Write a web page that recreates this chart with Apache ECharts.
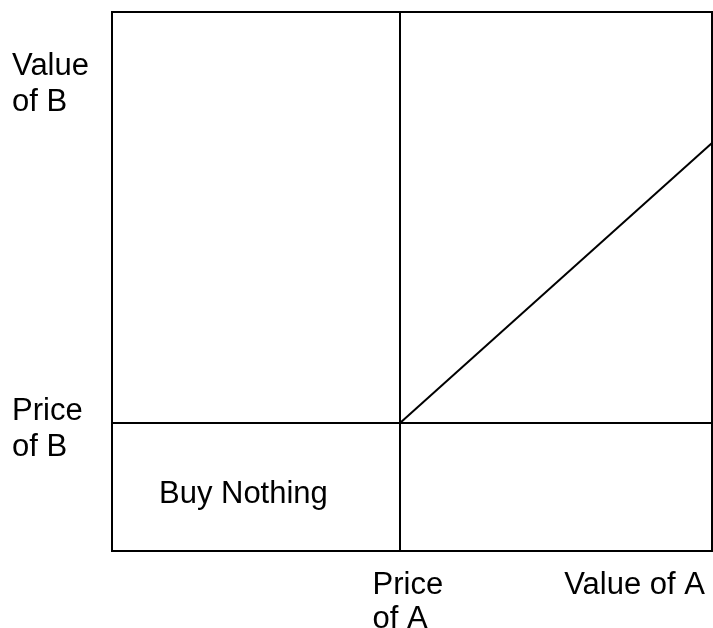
<!DOCTYPE html>
<html>
<head>
<meta charset="utf-8">
<script src="https://cdn.jsdelivr.net/npm/echarts@6/dist/echarts.min.js"></script>
<style>
  html, body { margin: 0; padding: 0; background: #fff; }
  #main { width: 713px; height: 628px; }
</style>
</head>
<body>
<div id="main"></div>
<script>
// axis positions (chart runs 0..10 on both axes)
var priceA = 4.8;
var valueA = 8.71;
var priceB = 2.375;
var valueB = 8.655;
var priceBLabel = 2.26;
var diagEndY = 7.57;

var xTickValues = [priceA, valueA];
var xTickLabels = ['{a|Price}\n{a|of A}', 'Value of A'];
var yTickValues = [priceBLabel, valueB];
var yTickLabels = ['Price\nof B', 'Value\nof B'];

var hLine = [[0, priceB], [10, priceB]];
var vLine = [[priceA, 0], [priceA, 10]];
var diagLine = [[priceA, priceB], [10, diagEndY]];
var regionLabels = [{ value: [2.19, 1.05], name: 'Buy Nothing' }];

var font = 'Liberation Sans, Arial, sans-serif';

var chartDom = document.getElementById('main');
var myChart = echarts.init(chartDom);

function lineSeries(data) {
  return {
    type: 'line',
    data: data,
    symbol: 'none',
    silent: true,
    lineStyle: { color: '#000', width: 2 }
  };
}

var option = {
  animation: false,
  grid: {
    left: 112, right: 1, top: 12, bottom: 77,
    outerBoundsMode: 'none',
    containLabel: false,
    show: true, borderColor: '#000', borderWidth: 2
  },
  xAxis: {
    type: 'value', min: 0, max: 10,
    splitLine: { show: false },
    axisLine: { show: false },
    axisTick: { show: false },
    axisLabel: {
      customValues: xTickValues,
      margin: 17,
      color: '#000',
      fontFamily: font,
      fontSize: 31,
      lineHeight: 34,
      formatter: function (v) {
        var i = xTickValues.indexOf(v);
        return i >= 0 ? xTickLabels[i] : '';
      },
      rich: {
        a: { width: 55, align: 'left', fontSize: 31, lineHeight: 34, fontFamily: font, color: '#000' }
      }
    }
  },
  yAxis: {
    type: 'value', min: 0, max: 10,
    splitLine: { show: false },
    axisLine: { show: false },
    axisTick: { show: false },
    axisLabel: {
      customValues: yTickValues,
      margin: 100,
      align: 'left',
      color: '#000',
      fontFamily: font,
      fontSize: 31,
      lineHeight: 36,
      formatter: function (v) {
        var i = yTickValues.indexOf(v);
        return i >= 0 ? yTickLabels[i] : '';
      }
    }
  },
  series: [
    lineSeries(hLine),
    lineSeries(vLine),
    lineSeries(diagLine),
    {
      type: 'scatter',
      data: regionLabels,
      symbolSize: 0,
      silent: true,
      itemStyle: { color: '#000', opacity: 1 },
      label: {
        show: true,
        position: 'inside',
        formatter: '{b}',
        color: '#000',
        textBorderWidth: 0,
        opacity: 1,
        fontFamily: font,
        fontSize: 31
      }
    }
  ]
};
option && myChart.setOption(option);
</script>
</body>
</html>
